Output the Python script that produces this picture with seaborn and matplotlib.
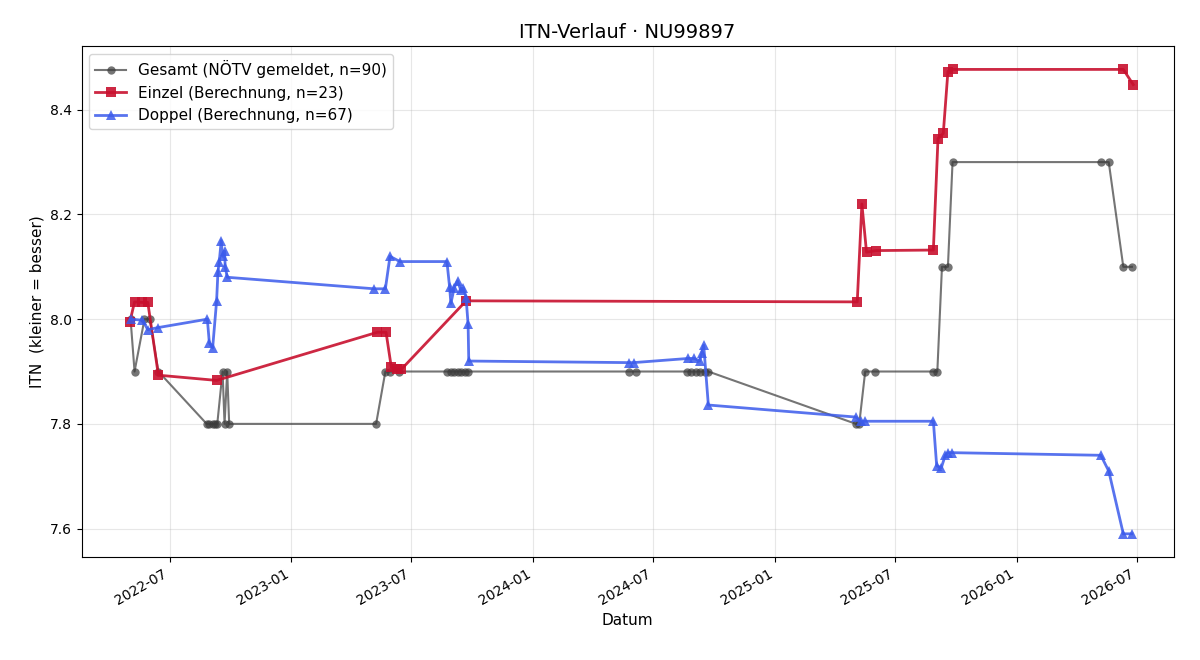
import pandas as pd
import matplotlib
matplotlib.use("Agg")
import matplotlib.pyplot as plt
import matplotlib.dates as mdates
import seaborn as sns

# Gesamt (NÖTV gemeldet)
gesamt_dates = [
    "2022-05-03", "2022-05-09", "2022-05-24", "2022-06-01", "2022-06-14",
    "2022-08-26", "2022-08-30", "2022-09-04", "2022-09-07", "2022-09-11",
    "2022-09-19", "2022-09-22", "2022-09-26", "2022-09-29",
    "2023-05-09", "2023-05-23", "2023-05-30", "2023-06-13",
    "2023-08-24", "2023-08-30", "2023-09-04", "2023-09-09", "2023-09-14",
    "2023-09-20", "2023-09-25",
    "2024-05-25", "2024-06-04",
    "2024-08-20", "2024-08-27", "2024-09-03", "2024-09-10", "2024-09-17",
    "2024-09-22",
    "2025-05-03", "2025-05-08", "2025-05-17", "2025-06-01",
    "2025-08-28", "2025-09-03", "2025-09-10", "2025-09-19", "2025-09-26",
    "2026-05-08", "2026-05-20", "2026-06-11", "2026-06-24",
]
gesamt_itn = [
    8.0, 7.9, 8.0, 8.0, 7.9,
    7.8, 7.8, 7.8, 7.8, 7.8,
    7.9, 7.8, 7.9, 7.8,
    7.8, 7.9, 7.9, 7.9,
    7.9, 7.9, 7.9, 7.9, 7.9,
    7.9, 7.9,
    7.9, 7.9,
    7.9, 7.9, 7.9, 7.9, 7.9,
    7.9,
    7.8, 7.8, 7.9, 7.9,
    7.9, 7.9, 8.1, 8.1, 8.3,
    8.3, 8.3, 8.1, 8.1,
]

# Einzel (Berechnung)
einzel_dates = [
    "2022-05-02", "2022-05-09", "2022-05-21", "2022-05-29", "2022-06-14",
    "2022-09-10", "2023-05-11", "2023-05-24", "2023-06-01", "2023-06-10",
    "2023-06-16", "2023-09-22", "2025-05-05", "2025-05-12", "2025-05-19",
    "2025-06-03", "2025-08-28", "2025-09-04", "2025-09-12", "2025-09-19",
    "2025-09-27", "2026-06-11", "2026-06-26",
]
einzel_itn = [
    7.995, 8.033, 8.032, 8.032, 7.893,
    7.883, 7.975, 7.975, 7.908, 7.904,
    7.904, 8.035, 8.033, 8.220, 8.128,
    8.131, 8.132, 8.345, 8.355, 8.473,
    8.477, 8.477, 8.448,
]

# Doppel (Berechnung)
doppel_dates = [
    "2022-05-03", "2022-05-21", "2022-05-29", "2022-06-14", "2022-08-27",
    "2022-08-30", "2022-09-04", "2022-09-10", "2022-09-12", "2022-09-14",
    "2022-09-17", "2022-09-19", "2022-09-22", "2022-09-23", "2022-09-26",
    "2023-05-06", "2023-05-23", "2023-05-30", "2023-06-14", "2023-08-24",
    "2023-08-28", "2023-08-30", "2023-09-04", "2023-09-09", "2023-09-14",
    "2023-09-18", "2023-09-22", "2023-09-25", "2023-09-26",
    "2024-05-25", "2024-06-01", "2024-08-23", "2024-09-01", "2024-09-09",
    "2024-09-12", "2024-09-15", "2024-09-22",
    "2025-05-03", "2025-05-10", "2025-05-17", "2025-08-28", "2025-09-02",
    "2025-09-09", "2025-09-15", "2025-09-19", "2025-09-25",
    "2026-05-08", "2026-05-20", "2026-06-11", "2026-06-24",
]
doppel_itn = [
    8.000, 7.998, 7.980, 7.984, 8.000,
    7.955, 7.945, 8.035, 8.090, 8.110,
    8.150, 8.120, 8.130, 8.100, 8.080,
    8.058, 8.058, 8.120, 8.110, 8.110,
    8.062, 8.030, 8.060, 8.073, 8.055,
    8.060, 8.040, 7.990, 7.920,
    7.917, 7.917, 7.925, 7.925, 7.920,
    7.935, 7.950, 7.836,
    7.813, 7.805, 7.805, 7.805, 7.720,
    7.716, 7.740, 7.745, 7.745,
    7.740, 7.710, 7.590, 7.590,
]

x_range = ["2022-02-18", "2026-08-26"]

gesamt = pd.DataFrame({"Datum": pd.to_datetime(gesamt_dates), "ITN": gesamt_itn})
einzel = pd.DataFrame({"Datum": pd.to_datetime(einzel_dates), "ITN": einzel_itn})
doppel = pd.DataFrame({"Datum": pd.to_datetime(doppel_dates), "ITN": doppel_itn})

plt.rcParams["font.family"] = ["DejaVu Sans"]

fig, ax = plt.subplots(figsize=(12, 6.6), dpi=100)

sns.lineplot(data=gesamt, x="Datum", y="ITN", ax=ax, estimator=None, sort=False,
             color="#3a3a3a", alpha=0.7, linewidth=1.5, marker="o", markersize=6,
             markeredgewidth=0, label="Gesamt (NÖTV gemeldet, n=90)")
sns.lineplot(data=einzel, x="Datum", y="ITN", ax=ax, estimator=None, sort=False,
             color="#C8102E", alpha=0.9, linewidth=2, marker="s", markersize=7,
             markeredgewidth=0, label="Einzel (Berechnung, n=23)")
sns.lineplot(data=doppel, x="Datum", y="ITN", ax=ax, estimator=None, sort=False,
             color="#3B5BEB", alpha=0.85, linewidth=2, marker="^", markersize=7,
             markeredgewidth=0, label="Doppel (Berechnung, n=67)")

ax.set_title("ITN-Verlauf · NU99897", fontsize=14)
ax.set_xlabel("Datum", fontsize=11)
ax.set_ylabel("ITN  (kleiner = besser)", fontsize=11)
ax.grid(True, alpha=0.3)
ax.set_xlim(pd.to_datetime(x_range[0]), pd.to_datetime(x_range[1]))
ax.xaxis.set_major_locator(mdates.MonthLocator(bymonth=[1, 7]))
ax.xaxis.set_major_formatter(mdates.DateFormatter("%Y-%m"))
ax.legend(loc="upper left", fontsize=11)
fig.autofmt_xdate()

fig.subplots_adjust(left=0.068, right=0.978, top=0.930, bottom=0.156)
plt.savefig("out.png")
